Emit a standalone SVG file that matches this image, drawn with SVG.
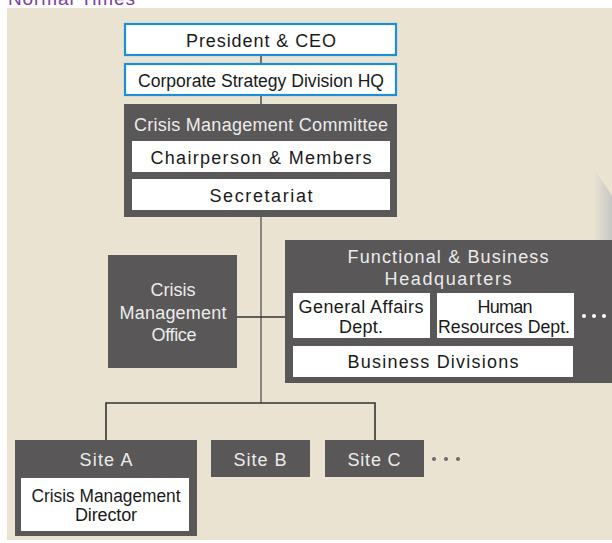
<svg xmlns="http://www.w3.org/2000/svg" width="612" height="543" viewBox="0 0 612 543">
<defs>
<linearGradient id="fold" x1="0" y1="0" x2="1" y2="0">
<stop offset="0" stop-color="#EAE3D2"/>
<stop offset="1" stop-color="#C6C7C4"/>
</linearGradient>
<style>
text{font-family:"Liberation Sans",Arial,Helvetica,sans-serif;font-size:18px;text-anchor:middle}
.dark{fill:#595757}
.white{fill:#ffffff}
.blue{fill:#ffffff;stroke:#1C8FD6;stroke-width:2.2}
.lt{fill:#ececec}
.bk{fill:#1a1a1a}
.ln{stroke:#555555;stroke-width:1.6;fill:none}
</style>
</defs>
<rect width="612" height="543" fill="#ffffff"/>
<text x="8" y="4.5" style="text-anchor:start;font-size:19px;fill:#7B3FA0" textLength="127">Normal Times</text>
<rect x="7" y="8" width="605" height="532" fill="#EAE3D2"/>
<polygon points="593,167 612,196 612,260 593,260" fill="url(#fold)"/>

<g id="connectors">
<line class="ln" x1="261" y1="55" x2="261" y2="64"/>
<line class="ln" x1="261" y1="95" x2="261" y2="104"/>
<line class="ln" x1="261" y1="217" x2="261" y2="403" style="stroke:#6e6e6e"/>
<line class="ln" x1="237" y1="317" x2="285" y2="317" style="stroke:#333"/>
<polyline class="ln" points="106,440 106,403 375,403 375,440" style="stroke:#333"/>
</g>

<g id="president">
<rect class="blue" x="125" y="24" width="271" height="31"/>
<text class="bk" x="261" y="47" textLength="150">President &amp; CEO</text>
</g>
<g id="corporate">
<rect class="blue" x="125" y="64" width="271" height="31"/>
<text class="bk" x="261" y="87" textLength="246" lengthAdjust="spacingAndGlyphs">Corporate Strategy Division HQ</text>
</g>
<g id="committee">
<rect class="dark" x="124" y="104" width="273" height="113"/>
<text class="lt" x="261" y="131" textLength="254">Crisis Management Committee</text>
<rect class="white" x="132" y="141" width="258" height="31"/>
<text class="bk" x="261" y="164" textLength="221">Chairperson &amp; Members</text>
<rect class="white" x="132" y="179" width="258" height="31"/>
<text class="bk" x="261" y="202" textLength="103">Secretariat</text>
</g>
<g id="cmo">
<rect class="dark" x="108" y="255" width="129" height="113"/>
<text class="lt" x="173" y="296" textLength="45">Crisis</text>
<text class="lt" x="173" y="319" textLength="107">Management</text>
<text class="lt" x="174" y="341" textLength="45">Office</text>
</g>
<g id="functional">
<rect class="dark" x="285" y="240" width="327" height="143"/>
<text class="lt" x="448" y="263" textLength="201">Functional &amp; Business</text>
<text class="lt" x="448" y="285" textLength="127">Headquarters</text>
<rect class="white" x="293" y="293" width="137" height="45"/>
<text class="bk" x="361" y="313" textLength="125">General Affairs</text>
<text class="bk" x="361" y="333" textLength="44">Dept.</text>
<rect class="white" x="437" y="293" width="137" height="45"/>
<text class="bk" x="505" y="313" textLength="55">Human</text>
<text class="bk" x="504" y="333" textLength="132" lengthAdjust="spacingAndGlyphs">Resources Dept.</text>
<rect class="white" x="293" y="346" width="280" height="31"/>
<text class="bk" x="433" y="368" textLength="171">Business Divisions</text>
<circle cx="584" cy="316" r="2" fill="#ffffff"/>
<circle cx="594" cy="316" r="2" fill="#ffffff"/>
<circle cx="604" cy="316" r="2" fill="#ffffff"/>
</g>
<g id="siteA">
<rect class="dark" x="15" y="440" width="182" height="96"/>
<text class="lt" x="106" y="466" textLength="53">Site A</text>
<rect class="white" x="21" y="478" width="168" height="53"/>
<text class="bk" x="106" y="502" textLength="149" lengthAdjust="spacingAndGlyphs">Crisis Management</text>
<text class="bk" x="106" y="521" textLength="62">Director</text>
</g>
<g id="siteB">
<rect class="dark" x="211" y="440" width="99" height="37"/>
<text class="lt" x="260" y="466" textLength="53">Site B</text>
</g>
<g id="siteC">
<rect class="dark" x="325" y="440" width="99" height="37"/>
<text class="lt" x="374" y="466" textLength="53">Site C</text>
</g>
<g id="more">
<circle cx="434" cy="459" r="2" fill="#6a6a6a"/>
<circle cx="446" cy="459" r="2" fill="#6a6a6a"/>
<circle cx="458" cy="459" r="2" fill="#6a6a6a"/>
</g>
</svg>
